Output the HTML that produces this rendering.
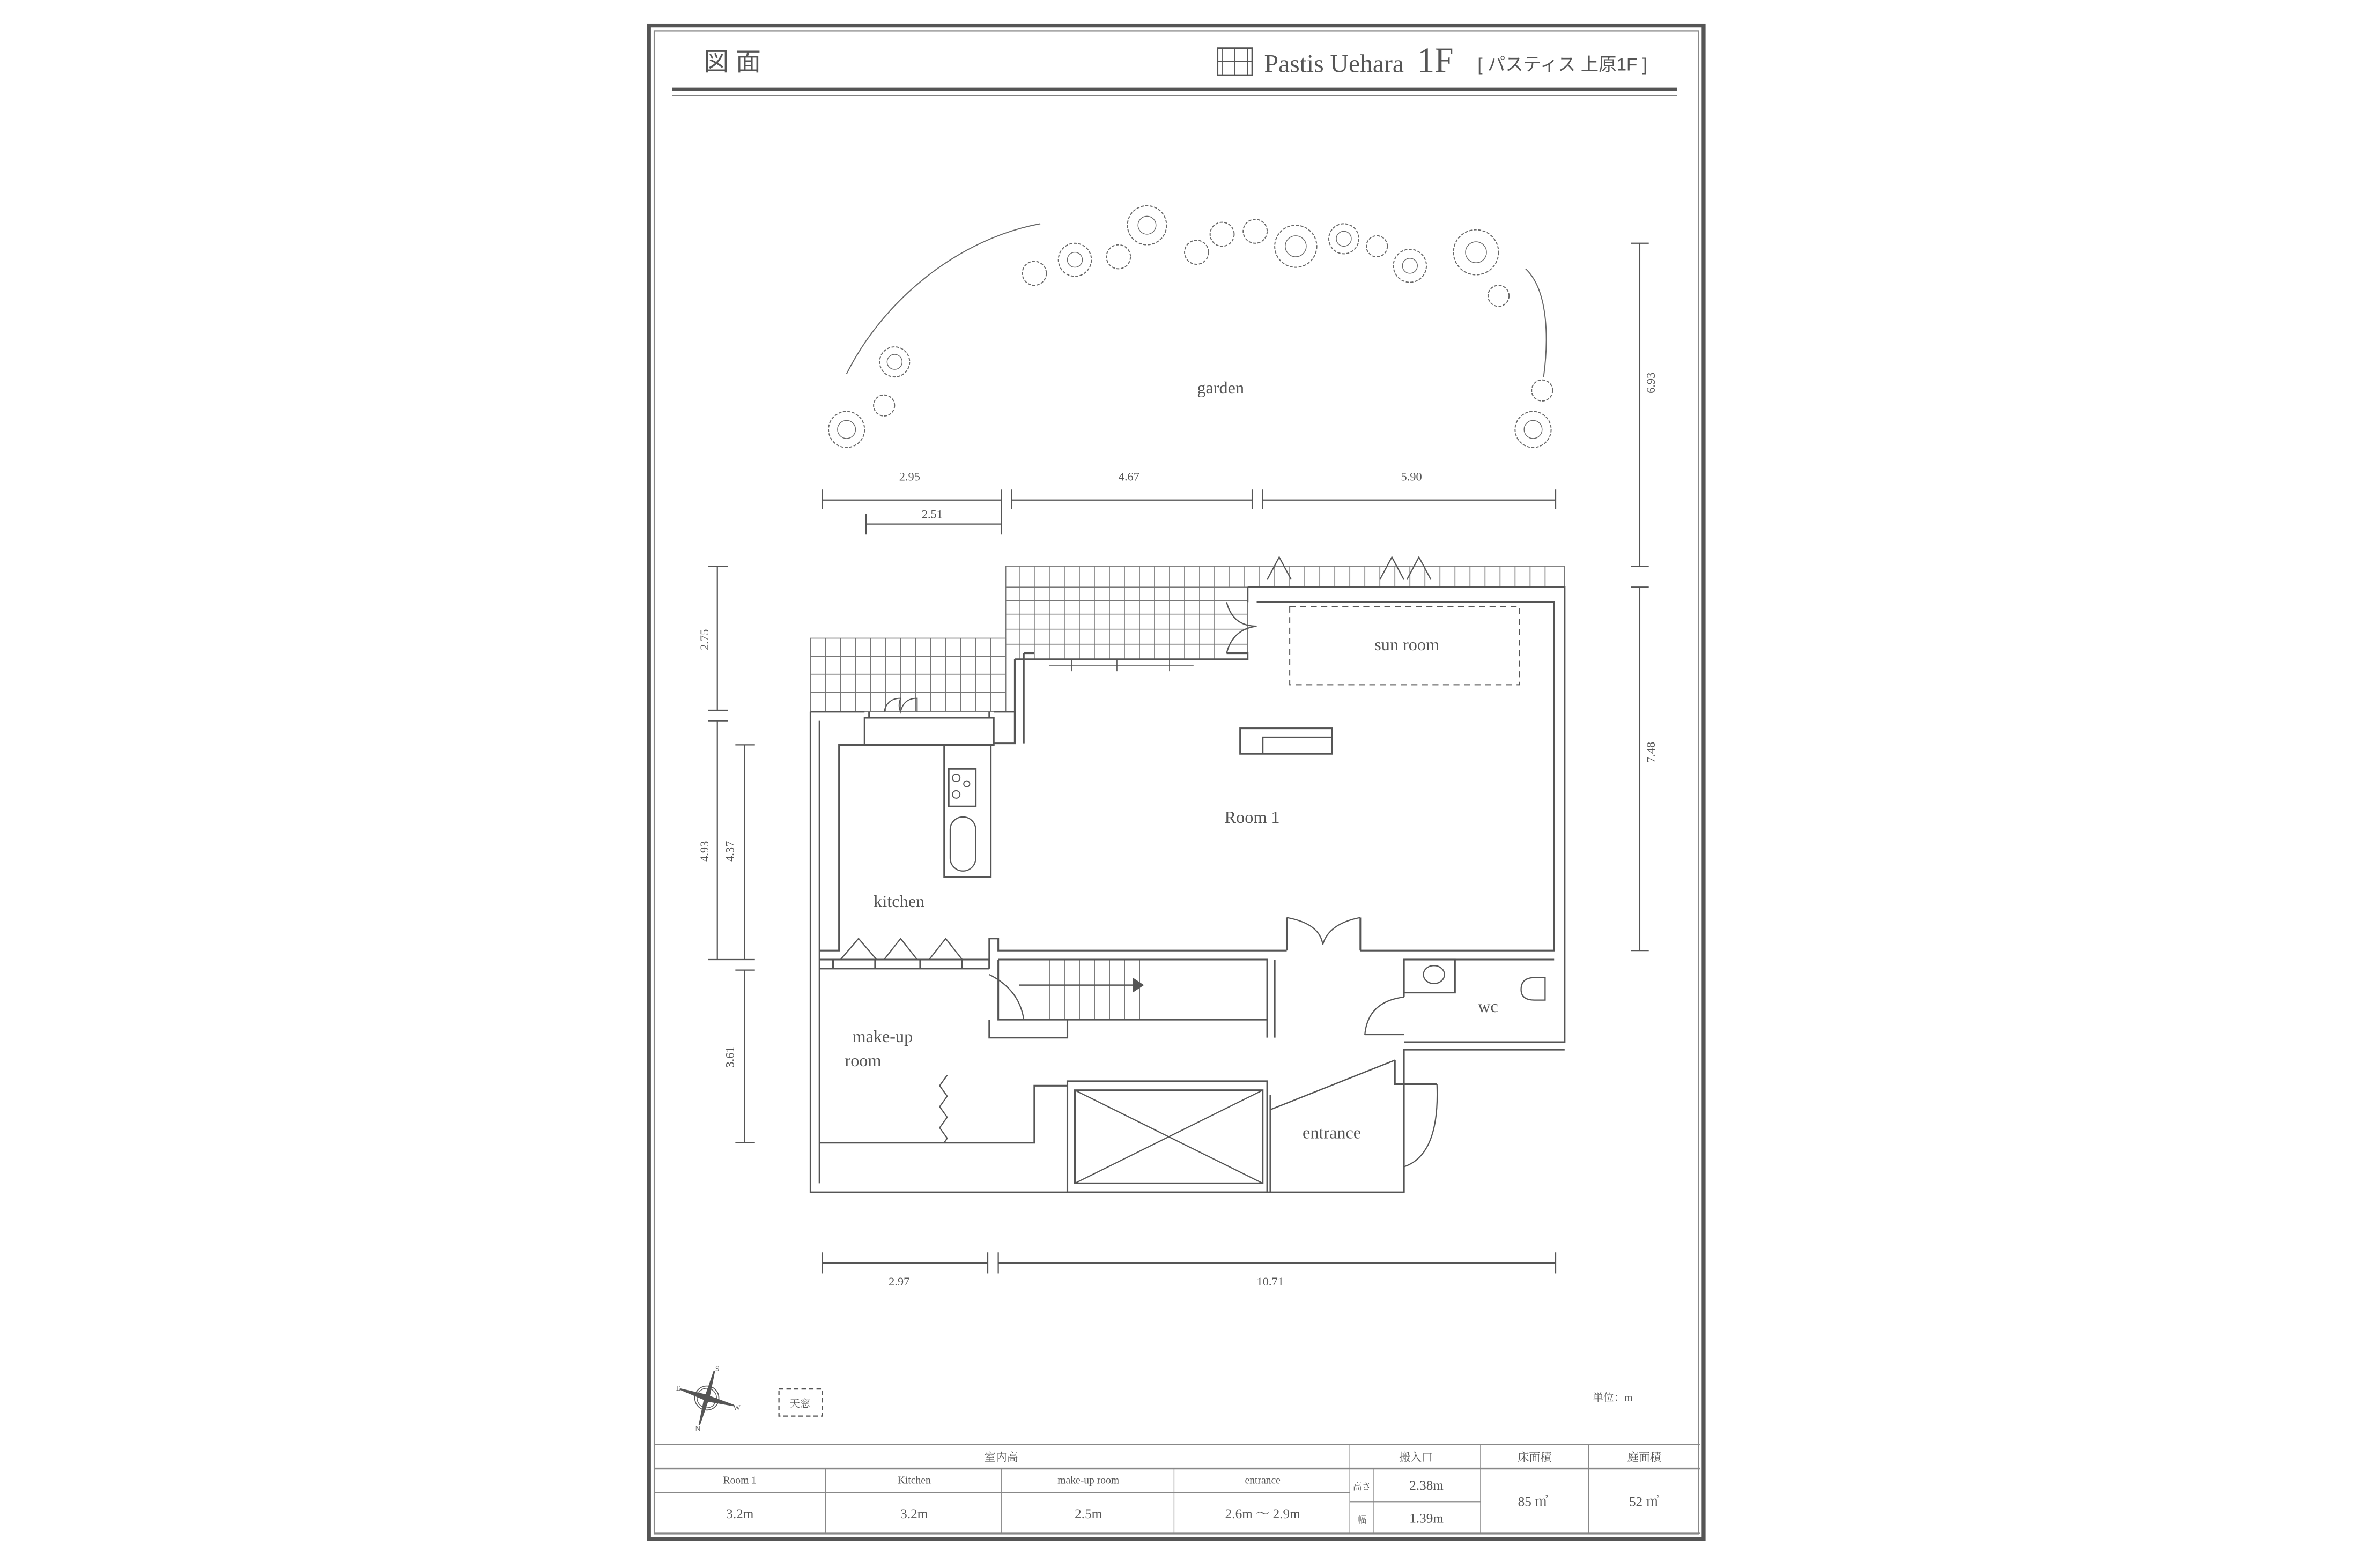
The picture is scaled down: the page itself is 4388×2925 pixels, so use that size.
<!DOCTYPE html>
<html><head><meta charset="utf-8"><style>
html,body{margin:0;padding:0;background:#fff}
svg{display:block}
text{fill:#555;font-family:"Liberation Serif","Noto Serif CJK SC",serif}
.j{font-family:"Liberation Sans","Noto Sans CJK JP",sans-serif}
</style></head><body>
<svg width="4388" height="2925" viewBox="0 0 1560 1040" preserveAspectRatio="none" xmlns="http://www.w3.org/2000/svg">
<g transform="translate(-1.5,-1) scale(0.996,0.996)">
<g fill="none" stroke="#555" stroke-width="1">
<rect x="433.5" y="18" width="702" height="1008" stroke-width="2.6"/>
<rect x="437" y="21.5" width="695" height="1001" stroke="#888" stroke-width="0.8"/>
<line x1="449" y1="60.5" x2="1118" y2="60.5" stroke-width="2.2"/>
<line x1="449" y1="64.5" x2="1118" y2="64.5" stroke-width="0.6"/>
<rect x="812" y="33" width="23" height="18" stroke-width="1"/>
<line x1="815" y1="33" x2="815" y2="51" stroke-width="0.6"/><line x1="832" y1="33" x2="832" y2="51" stroke-width="0.6"/>
<line x1="823.5" y1="33" x2="823.5" y2="51" stroke-width="0.6"/><line x1="812" y1="42" x2="835" y2="42" stroke-width="0.6"/>

<g stroke-width="0.7" stroke="#666">
<path d="M565,250 C590,200 640,160 694,150"/>
<path d="M1017,180 C1033,195 1032,230 1029,252"/>
<g stroke-dasharray="2,1">
<circle cx="597" cy="242" r="10"/><circle cx="590" cy="271" r="7"/><circle cx="565" cy="287" r="12"/>
<circle cx="690" cy="183" r="8"/><circle cx="717" cy="174" r="11"/><circle cx="746" cy="172" r="8"/>
<circle cx="765" cy="151" r="13"/><circle cx="798" cy="169" r="8"/><circle cx="815" cy="157" r="8"/>
<circle cx="837" cy="155" r="8"/><circle cx="864" cy="165" r="14"/><circle cx="896" cy="160" r="10"/>
<circle cx="918" cy="165" r="7"/><circle cx="940" cy="178" r="11"/><circle cx="984" cy="169" r="15"/>
<circle cx="999" cy="198" r="7"/><circle cx="1028" cy="261" r="7"/><circle cx="1022" cy="287" r="12"/>
</g>
<g stroke-width="0.5">
<circle cx="597" cy="242" r="5"/><circle cx="565" cy="287" r="6"/><circle cx="717" cy="174" r="5"/>
<circle cx="765" cy="151" r="6"/><circle cx="864" cy="165" r="7"/><circle cx="896" cy="160" r="5"/>
<circle cx="940" cy="178" r="5"/><circle cx="984" cy="169" r="7"/><circle cx="1022" cy="287" r="6"/>
</g>
</g>

<g stroke-width="0.8">
<line x1="549" y1="334" x2="668" y2="334"/><line x1="549" y1="327" x2="549" y2="340"/><line x1="668" y1="327" x2="668" y2="357"/>
<line x1="675" y1="334" x2="835" y2="334"/><line x1="675" y1="327" x2="675" y2="340"/><line x1="835" y1="327" x2="835" y2="340"/>
<line x1="842" y1="334" x2="1037" y2="334"/><line x1="842" y1="327" x2="842" y2="340"/><line x1="1037" y1="327" x2="1037" y2="340"/>
<line x1="578" y1="350" x2="668" y2="350"/><line x1="578" y1="343" x2="578" y2="357"/>
<line x1="1093" y1="163" x2="1093" y2="378"/><line x1="1087" y1="163" x2="1099" y2="163"/><line x1="1087" y1="378" x2="1099" y2="378"/>
<line x1="1093" y1="392" x2="1093" y2="634"/><line x1="1087" y1="392" x2="1099" y2="392"/><line x1="1087" y1="634" x2="1099" y2="634"/>
<line x1="479" y1="378" x2="479" y2="474"/><line x1="473" y1="378" x2="486" y2="378"/><line x1="473" y1="474" x2="486" y2="474"/>
<line x1="479" y1="481" x2="479" y2="640"/><line x1="473" y1="481" x2="486" y2="481"/><line x1="473" y1="640" x2="504" y2="640"/>
<line x1="497" y1="497" x2="497" y2="640"/><line x1="491" y1="497" x2="504" y2="497"/>
<line x1="497" y1="647" x2="497" y2="762"/><line x1="491" y1="647" x2="504" y2="647"/><line x1="491" y1="762" x2="504" y2="762"/>
<line x1="549" y1="842" x2="659" y2="842"/><line x1="549" y1="835" x2="549" y2="849"/><line x1="659" y1="835" x2="659" y2="849"/>
<line x1="666" y1="842" x2="1037" y2="842"/><line x1="666" y1="835" x2="666" y2="849"/><line x1="1037" y1="835" x2="1037" y2="849"/>
</g>

<g stroke-width="0.6" stroke="#777">
<rect x="671" y="378" width="372" height="14"/>
<path d="M671,392 V440 M832,392 V440 M671,401 H832 M671,410 H832 M671,420 H832 M671,430 H832"/>
<path d="M680,378 V440 M690,378 V440 M700,378 V440 M710,378 V440 M720,378 V440 M730,378 V440 M740,378 V440 M750,378 V440 M760,378 V440 M770,378 V440 M780,378 V440 M790,378 V440 M800,378 V440 M810,378 V440 M820,378 V392 M830,378 V392 M840,378 V392 M850,378 V392 M860,378 V392 M870,378 V392 M880,378 V392 M890,378 V392 M900,378 V392 M910,378 V392 M920,378 V392 M930,378 V392 M940,378 V392 M950,378 V392 M960,378 V392 M970,378 V392 M980,378 V392 M990,378 V392 M1000,378 V392 M1010,378 V392 M1020,378 V392 M1030,378 V392"/>
<rect x="541" y="426" width="130" height="49"/>
<path d="M541,438 H671 M541,450 H671 M541,462 H671 M551,426 V475 M561,426 V475 M571,426 V475 M581,426 V475 M591,426 V475 M601,426 V475 M611,426 V475 M621,426 V475 M631,426 V475 M641,426 V475 M651,426 V475 M661,426 V475"/>
</g>

<g stroke-width="1.1">
<path d="M541,475 V795 H936 V723"/>
<path d="M547,481 V789"/>
<path d="M541,475 H577 M663,475 H677 V496 H663"/>
<path d="M677,440 V496 M683,436 V496 M677,440 H690 M683,436 H690"/>
<path d="M690,440 H818 M818,436 H832 V440 H818"/>
<path d="M832,392 H1043 V695 H936 M838,402 H1036 V634 H907 M832,392 V402"/>
<path d="M547,634 H560 V497 H577 M561,497 H663"/>
<rect x="577" y="479" width="86" height="18"/>
<path d="M580,475 V479 M660,475 V479 M590,479 H612"/>
<rect x="630" y="497" width="31" height="88"/>
<rect x="633" y="513" width="18" height="25"/>
<circle cx="638" cy="519" r="2.5" stroke-width="0.7"/><circle cx="645" cy="523" r="2" stroke-width="0.7"/><circle cx="638" cy="530" r="2.5" stroke-width="0.7"/>
<rect x="634" y="545" width="17" height="36" rx="8.5" stroke-width="0.8"/>
<rect x="827" y="486" width="61" height="17"/><path d="M842,503 V492 H888"/>
<path d="M547,640 H660 M547,646 H660 M660,640 V646 M556,640 V646 M584,640 V646 M614,640 V646 M642,640 V646"/>
<path d="M561,640 L573,626 L585,640 M590,640 L601,626 L612,640 M620,640 L631,626 L642,640" stroke-width="0.8"/>
<path d="M660,646 V626 H666 V634 H858 M858,634 V612 M907,634 V612"/>
<path d="M858,612 Q880,616 882,630 M907,612 Q886,616 882,630" stroke-width="0.8"/>
<path d="M666,640 H845 V692 M666,640 V680 H845 M660,680 V692 H712 V680 M850,640 V692"/>
<path d="M700,640 V680 M710,640 V680 M720,640 V680 M730,640 V680 M740,640 V680 M750,640 V680 M760,640 V680" stroke-width="0.6"/>
<path d="M680,657 H758" stroke-width="0.9"/><path d="M756,653 L762,657 L756,661 Z" fill="#555"/>
<path d="M660,650 Q680,660 683,680" stroke-width="0.8"/>
<path d="M547,762 H690 V724 H712"/>
<path d="M632,717 L627,724 L632,731 L627,738 L632,745 L627,752 L632,759 L630,762" stroke-width="0.8"/>
<rect x="712" y="721" width="133" height="74"/>
<rect x="717" y="727" width="125" height="62"/>
<path d="M717,727 L842,789 M842,727 L717,789" stroke-width="0.8"/>
<path d="M847,795 V730 M847,740 L930,707" stroke-width="0.9"/>
<path d="M936,723 V700 H1043 M930,707 V723 H958 M936,778 V795"/>
<path d="M958,723 Q960,770 936,778" stroke-width="0.8"/>
<path d="M936,640 V665 M936,640 H1036"/>
<rect x="936" y="640" width="34" height="22"/>
<ellipse cx="956" cy="650" rx="7" ry="6" stroke-width="0.8"/>
<path d="M1030,652 H1023 Q1014,652 1014,660 Q1014,667 1023,667 H1030 Z" stroke-width="0.8"/>
<path d="M910,690 Q912,668 936,665 M910,690 H936" stroke-width="0.8"/>
<path d="M818,402 Q822,418 838,418 Q822,420 818,436" stroke-width="0.8"/>
<rect x="860" y="405" width="153" height="52" stroke-dasharray="4,3" stroke-width="0.7"/>
<path d="M845,387 L853,372 L861,387 M920,387 L928,372 L936,387 M938,387 L946,372 L954,387" stroke-width="0.8"/>
<path d="M700,444 H796 M715,440 V448 M745,440 V448 M780,440 V448" stroke-width="0.6"/>
<path d="M590,475 Q592,466 601,466 Q599,471 601,475 Q603,466 612,466 Q612,471 612,475" stroke-width="0.7"/>

<g stroke-width="0.8" stroke="#888">
<line x1="437" y1="963" x2="1133" y2="963"/>
<line x1="437" y1="979" x2="1133" y2="979" stroke-width="1.2"/>
<line x1="437" y1="995" x2="900" y2="995" stroke-width="0.5"/>
<line x1="900" y1="1001" x2="987" y2="1001"/>
<line x1="437" y1="1022" x2="1133" y2="1022" stroke-width="1.2"/>
<path d="M551,979 V1022 M668,979 V1022 M783,979 V1022 M900,963 V1022 M916,979 V1022 M987,963 V1022 M1059,963 V1022" stroke-width="0.5"/>
</g>
<rect x="520" y="926" width="29" height="18" stroke-dasharray="3,2" stroke-width="0.8"/>
<circle cx="472" cy="932" r="8" stroke-width="0.6"/><circle cx="472" cy="932" r="6.5" stroke-width="0.5"/>
</g>
<g fill="#555">
<path d="M477,914 L473.5,931 L467,950 L470.5,933 Z"/>
<path d="M454,926 L471,930 L490,937 L473,934 Z"/>
</g>
</g>

<text x="470" y="48" font-size="17" class="j" textLength="38" lengthAdjust="spacingAndGlyphs">図 面</text>
<text x="843" y="49" font-size="17" textLength="93" lengthAdjust="spacingAndGlyphs">Pastis Uehara</text>
<text x="945" y="49" font-size="24" textLength="24" lengthAdjust="spacingAndGlyphs">1F</text>
<text x="985" y="48" font-size="12" class="j" textLength="113" lengthAdjust="spacingAndGlyphs">[ パスティス 上原1F ]</text>
<g font-size="11.5" text-anchor="middle">
<text x="814" y="263">garden</text>
<text x="938" y="434">sun room</text>
<text x="835" y="549">Room 1</text>
<text x="600" y="605">kitchen</text>
<text x="589" y="695">make-up</text>
<text x="576" y="711">room</text>
<text x="992" y="675">wc</text>
<text x="888" y="759">entrance</text>
</g>
<g font-size="8" text-anchor="middle" class="j">
<text x="607" y="321">2.95</text><text x="753" y="321">4.67</text><text x="941" y="321">5.90</text>
<text x="622" y="346">2.51</text>
<text x="600" y="857">2.97</text><text x="847" y="857">10.71</text>
<text transform="translate(1103,256) rotate(-90)">6.93</text>
<text transform="translate(1103,502) rotate(-90)">7.48</text>
<text transform="translate(473,427) rotate(-90)">2.75</text>
<text transform="translate(473,568) rotate(-90)">4.93</text>
<text transform="translate(490,568) rotate(-90)">4.37</text>
<text transform="translate(490,705) rotate(-90)">3.61</text>
<text x="534" y="938" font-size="7">天窓</text>
<text x="1075" y="934" font-size="7">単位：m</text>
<text x="668" y="974" font-size="7.5">室内高</text>
<text x="944" y="974" font-size="7.5">搬入口</text>
<text x="1023" y="974" font-size="7.5">床面積</text>
<text x="1096" y="974" font-size="7.5">庭面積</text>
<text x="908" y="993" font-size="6">高さ</text>
<text x="908" y="1015" font-size="6">幅</text>
<text x="951" y="993" font-size="9">2.38m</text>
<text x="951" y="1015" font-size="9">1.39m</text>
<text x="1022" y="1004" font-size="9">85 ㎡</text>
<text x="1096" y="1004" font-size="9">52 ㎡</text>
<text x="494" y="1012" font-size="9">3.2m</text>
<text x="610" y="1012" font-size="9">3.2m</text>
<text x="726" y="1012" font-size="9">2.5m</text>
<text x="842" y="1012" font-size="9">2.6m ～ 2.9m</text>
</g>
<g font-size="7" text-anchor="middle">
<text x="494" y="989">Room 1</text><text x="610" y="989">Kitchen</text>
<text x="726" y="989">make-up room</text><text x="842" y="989">entrance</text>
<text x="479" y="914" font-size="5">S</text><text x="453" y="927" font-size="5">E</text>
<text x="492" y="940" font-size="5">W</text><text x="466" y="954" font-size="5">N</text>
</g>
</g>
</svg>
</body></html>
